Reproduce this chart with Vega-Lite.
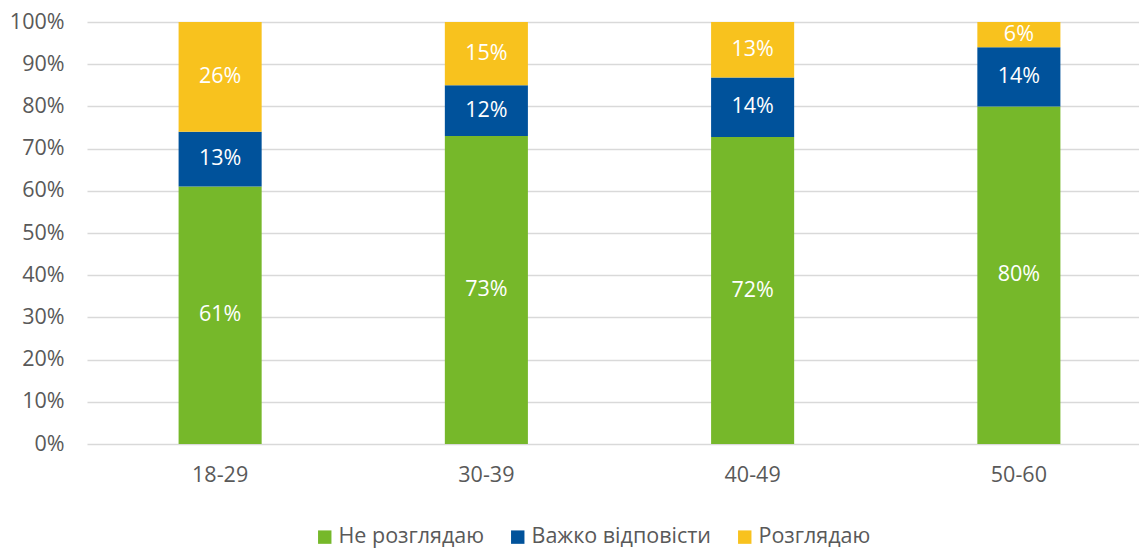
{
  "$schema": "https://vega.github.io/schema/vega-lite/v6.json",
  "width": 1065,
  "height": 422,
  "autosize": {"type": "none"},
  "padding": {"left": 87, "top": 22, "right": 0, "bottom": 104},
  "config": {
    "view": {"stroke": null},
    "font": "Open Sans",
    "axis": {"labelFont": "Open Sans", "labelColor": "#595959", "labelFontSize": 21.5}
  },
  "data": {
    "values": [
      {"age": "18-29", "cat": "Не розглядаю", "o": 1, "value": 0.61},
      {"age": "18-29", "cat": "Важко відповісти", "o": 2, "value": 0.13},
      {"age": "18-29", "cat": "Розглядаю", "o": 3, "value": 0.26},
      {"age": "30-39", "cat": "Не розглядаю", "o": 1, "value": 0.73},
      {"age": "30-39", "cat": "Важко відповісти", "o": 2, "value": 0.12},
      {"age": "30-39", "cat": "Розглядаю", "o": 3, "value": 0.15},
      {"age": "40-49", "cat": "Не розглядаю", "o": 1, "value": 0.72},
      {"age": "40-49", "cat": "Важко відповісти", "o": 2, "value": 0.14},
      {"age": "40-49", "cat": "Розглядаю", "o": 3, "value": 0.13},
      {"age": "50-60", "cat": "Не розглядаю", "o": 1, "value": 0.80},
      {"age": "50-60", "cat": "Важко відповісти", "o": 2, "value": 0.14},
      {"age": "50-60", "cat": "Розглядаю", "o": 3, "value": 0.06}
    ]
  },
  "transform": [
    {"stack": "value", "groupby": ["age"], "offset": "normalize", "sort": [{"field": "o", "order": "ascending"}], "as": ["y0", "y1"]},
    {"calculate": "(datum.y0 + datum.y1) / 2", "as": "ymid"}
  ],
  "encoding": {
    "x": {
      "field": "age", "type": "nominal", "title": null,
      "scale": {"paddingInner": 0.688, "paddingOuter": 0.344},
      "axis": {"labelAngle": 0, "domain": false, "ticks": false, "tickSize": 0, "labelPadding": 20, "grid": false}
    }
  },
  "layer": [
    {
      "mark": {"type": "bar"},
      "encoding": {
        "y": {
          "field": "y0", "type": "quantitative", "title": null,
          "scale": {"domain": [0, 1], "nice": false},
          "axis": {"values": [0, 0.1, 0.2, 0.3, 0.4, 0.5, 0.6, 0.7, 0.8, 0.9, 1], "format": ".0%", "domain": false, "ticks": false, "tickSize": 0, "labelPadding": 23, "gridColor": "#D9D9D9", "gridWidth": 1.5}
        },
        "y2": {"field": "y1"},
        "color": {
          "field": "cat", "type": "nominal", "title": null,
          "scale": {"domain": ["Не розглядаю", "Важко відповісти", "Розглядаю"], "range": ["#76B82A", "#00529B", "#F8C21E"]},
          "legend": {
            "orient": "none", "legendX": 227, "legendY": 504, "direction": "horizontal",
            "symbolType": "square", "symbolSize": 180, "symbolStrokeWidth": 0, "symbolOpacity": 1,
            "labelFontSize": 21.5, "labelColor": "#595959", "labelFont": "Open Sans", "labelLimit": 0,
            "columnPadding": 22, "labelOffset": 3
          }
        }
      }
    },
    {
      "mark": {"type": "text", "color": "white", "fontSize": 21.5, "font": "Open Sans", "baseline": "middle", "align": "center"},
      "encoding": {
        "y": {"field": "ymid", "type": "quantitative"},
        "text": {"field": "value", "type": "quantitative", "format": ".0%"}
      }
    }
  ]
}
